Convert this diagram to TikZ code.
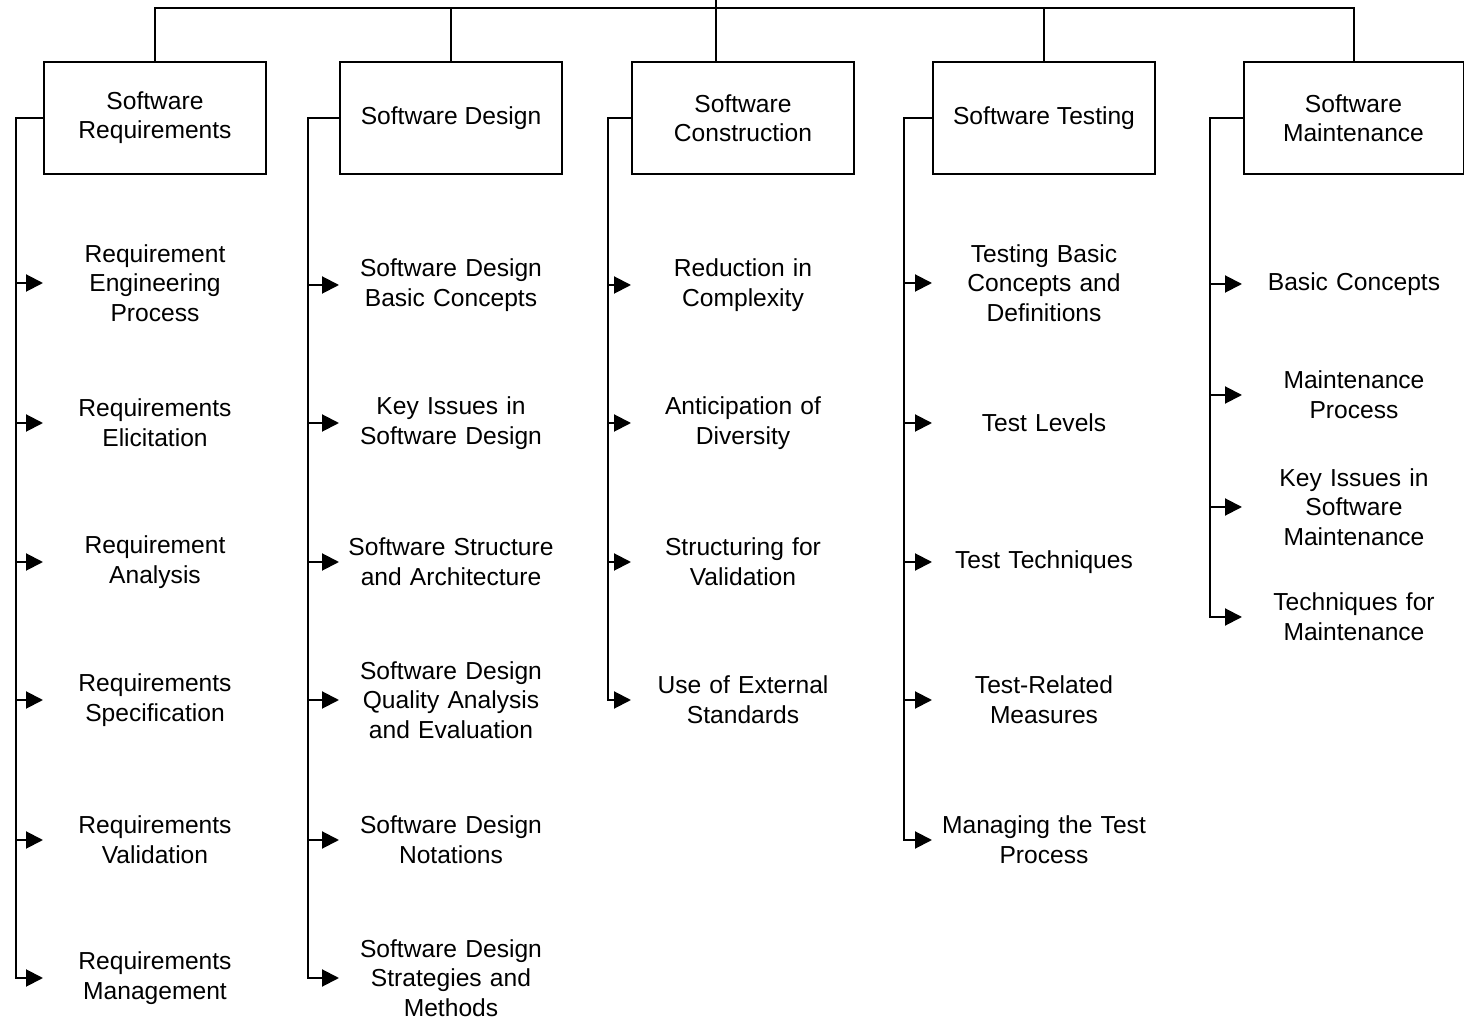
\documentclass[tikz,border=0pt]{standalone}
\usepackage{fontspec}
\setmainfont{Liberation Sans}
\usetikzlibrary{arrows.meta}

\begin{document}
\begin{tikzpicture}[x=0.5pt,y=-0.5pt,line width=1pt,
  area/.style={draw,minimum width=111pt,minimum height=56pt,inner sep=0pt,
    align=center,font=\fontsize{12.3pt}{14.6pt}\selectfont},
  topic/.style={text width=111pt,inner sep=0pt,align=center,
    font=\fontsize{12.3pt}{14.8pt}\selectfont},
  feed/.style={-{Triangle[length=8.5pt,width=8.5pt]}}]
  \useasboundingbox (0,0) rectangle (1464,1021);

  % Knowledge areas
  \node[area] (req) at (155,118) {Software\\Requirements};
  \node[area] (des) at (451,118) {Software Design};
  \node[area] (con) at (743,118) {Software\\Construction};
  \node[area] (tst) at (1044,118) {Software Testing};
  \node[area,minimum width=110pt] (mnt) at (1353.5,118) {Software\\Maintenance};

  % Tree on top
  \coordinate (root) at (716,0);
  \coordinate (bar) at (716,8);
  \draw (req.north) |- (mnt.north |- bar) -- (mnt.north);
  \draw (root) -- (root |- con.north);
  \draw (des.north) -- (des.north |- bar);
  \draw (tst.north) -- (tst.north |- bar);

  % Requirements
  \node[topic] (req1) at (155,283) {Requirement\\Engineering\\Process};
  \node[topic] (req2) at (155,423) {Requirements\\Elicitation};
  \node[topic] (req3) at (155,562) {Requirement\\Analysis};
  \node[topic] (req4) at (155,700) {Requirements\\Specification};
  \node[topic] (req5) at (155,840) {Requirements\\Validation};
  \node[topic] (req6) at (155,978) {Requirements\\Management};

  % Design
  \node[topic] (des1) at (451,285) {Software Design\\Basic Concepts};
  \node[topic] (des2) at (451,423) {Key Issues in\\Software Design};
  \node[topic] (des3) at (451,562) {Software Structure\\and Architecture};
  \node[topic] (des4) at (451,700) {Software Design\\Quality Analysis\\and Evaluation};
  \node[topic] (des5) at (451,840) {Software Design\\Notations};
  \node[topic] (des6) at (451,978) {Software Design\\Strategies and\\Methods};

  % Construction
  \node[topic] (con1) at (743,285) {Reduction in\\Complexity};
  \node[topic] (con2) at (743,423) {Anticipation of\\Diversity};
  \node[topic] (con3) at (743,562) {Structuring for\\Validation};
  \node[topic] (con4) at (743,700) {Use of External\\Standards};

  % Testing
  \node[topic] (tst1) at (1044,283) {Testing Basic\\Concepts and\\Definitions};
  \node[topic] (tst2) at (1044,423) {Test Levels};
  \node[topic] (tst3) at (1044,562) {Test Techniques};
  \node[topic] (tst4) at (1044,700) {Test-Related\\Measures};
  \node[topic] (tst5) at (1044,840) {Managing the Test\\Process};

  % Maintenance
  \node[topic] (mnt1) at (1354,284) {Basic Concepts};
  \node[topic] (mnt2) at (1354,395) {Maintenance\\Process};
  \node[topic] (mnt3) at (1354,507) {Key Issues in\\Software\\Maintenance};
  \node[topic] (mnt4) at (1354,617) {Techniques for\\Maintenance};

  % Spines
  \coordinate (reqs) at (16,118);
  \coordinate (dess) at (308,118);
  \coordinate (cons) at (608,118);
  \coordinate (tsts) at (904,118);
  \coordinate (mnts) at (1210,118);
  \draw[feed] (req.west) -- (reqs) |- (req6.west);
  \draw[feed] (des.west) -- (dess) |- (des6.west);
  \draw[feed] (con.west) -- (cons) |- (con4.west);
  \draw[feed] (tst.west) -- (tsts) |- (tst5.west);
  \draw[feed] (mnt.west) -- (mnts) |- (mnt4.west);
  \foreach \i in {1,...,5} {
    \draw[feed] (reqs |- req\i.west) -- (req\i.west);
    \draw[feed] (dess |- des\i.west) -- (des\i.west);
  }
  \foreach \i in {1,...,3} \draw[feed] (cons |- con\i.west) -- (con\i.west);
  \foreach \i in {1,...,4} \draw[feed] (tsts |- tst\i.west) -- (tst\i.west);
  \foreach \i in {1,...,3} \draw[feed] (mnts |- mnt\i.west) -- (mnt\i.west);
\end{tikzpicture}
\end{document}
